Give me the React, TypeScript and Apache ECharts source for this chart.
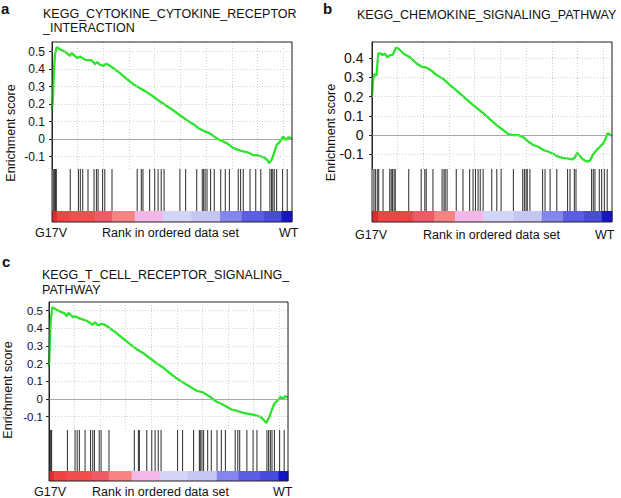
import React, { useEffect, useRef } from 'react';
import * as echarts from 'echarts';

// x positions are ranks in the ordered gene list, expressed per mille (0..1000)
const gridStep = 107; // ~2000 genes of ~18700

const esTicksA = [-0.1, 0, 0.1, 0.2, 0.3, 0.4, 0.5];
const esTicksB = [-0.1, 0, 0.1, 0.2, 0.3, 0.4];
const esTicksC = [-0.1, 0, 0.1, 0.2, 0.3, 0.4, 0.5];

const titleA = ['KEGG_CYTOKINE_CYTOKINE_RECEPTOR', '_INTERACTION'];
const titleB = ['KEGG_CHEMOKINE_SIGNALING_PATHWAY'];
const titleC = ['KEGG_T_CELL_RECEPTOR_SIGNALING_', 'PATHWAY'];
const panelLetters = ['a', 'b', 'c'];
const yName = 'Enrichment score';
const xName = 'Rank in ordered data set';
const leftClass = 'G17V';
const rightClass = 'WT';

const esRankA = [0, 3, 9, 13, 20, 33, 54, 75, 82, 106, 117, 138, 166, 179, 189, 200, 214, 225, 235, 256, 283, 311, 339, 367, 394, 422, 450, 478, 506, 533, 561, 589, 610, 631, 651, 672, 693, 714, 735, 756, 776, 797, 818, 839, 860, 881, 894, 905, 915, 925, 936, 947, 956, 963, 975, 985, 999];
const esScoreA = [0.17, 0.21, 0.415, 0.49, 0.526, 0.514, 0.5, 0.476, 0.491, 0.463, 0.472, 0.453, 0.45, 0.429, 0.44, 0.425, 0.419, 0.43, 0.425, 0.406, 0.377, 0.345, 0.314, 0.291, 0.269, 0.244, 0.215, 0.19, 0.164, 0.137, 0.11, 0.086, 0.063, 0.048, 0.038, 0.019, 0, -0.013, -0.029, -0.051, -0.061, -0.07, -0.076, -0.091, -0.093, -0.103, -0.114, -0.136, -0.118, -0.08, -0.032, -0.019, 0, 0.015, -0.004, 0.011, 0.006];

const esRankB = [0, 5, 12, 19, 26, 36, 44, 54, 64, 75, 86, 100, 110, 131, 158, 186, 207, 228, 249, 269, 297, 325, 353, 381, 408, 436, 464, 492, 519, 547, 568, 589, 610, 631, 652, 672, 693, 714, 735, 756, 776, 797, 814, 832, 845, 855, 864, 877, 890, 901, 910, 920, 930, 940, 950, 961, 971, 981, 989, 999];
const esScoreB = [0.2, 0.295, 0.32, 0.31, 0.425, 0.425, 0.417, 0.425, 0.405, 0.417, 0.417, 0.455, 0.451, 0.425, 0.405, 0.373, 0.356, 0.351, 0.335, 0.3125, 0.292, 0.26, 0.231, 0.2, 0.17, 0.142, 0.113, 0.082, 0.052, 0.026, 0.005, 0, 0, -0.012, -0.035, -0.052, -0.061, -0.078, -0.087, -0.099, -0.113, -0.12, -0.122, -0.127, -0.118, -0.092, -0.105, -0.125, -0.135, -0.139, -0.13, -0.104, -0.087, -0.073, -0.061, -0.047, -0.026, 0.009, 0.005, -0.005];

const esRankC = [0, 4, 7, 14, 25, 46, 67, 74, 81, 102, 109, 130, 158, 172, 183, 192, 206, 220, 234, 255, 283, 311, 339, 367, 395, 422, 450, 478, 506, 534, 562, 590, 618, 645, 673, 701, 722, 744, 764, 785, 813, 841, 862, 883, 897, 909, 922, 932, 942, 951, 960, 970, 979, 988, 1000];
const esScoreC = [0.184, 0.335, 0.44, 0.52, 0.51, 0.496, 0.483, 0.468, 0.487, 0.462, 0.468, 0.455, 0.443, 0.43, 0.42, 0.434, 0.417, 0.426, 0.42, 0.4, 0.373, 0.341, 0.311, 0.282, 0.259, 0.231, 0.203, 0.178, 0.146, 0.117, 0.093, 0.07, 0.047, 0.038, 0.013, -0.015, -0.028, -0.044, -0.059, -0.066, -0.078, -0.085, -0.091, -0.1, -0.116, -0.135, -0.1, -0.062, -0.028, -0.015, -0.002, 0.013, -0.002, 0.017, 0.008];

const hitsA = [5, 9, 12, 15, 18, 76, 110, 118, 128, 150, 175, 185, 192, 211, 220, 250, 355, 372, 379, 407, 428, 442, 455, 467, 533, 557, 603, 626, 632, 638, 646, 661, 676, 703, 722, 739, 776, 786, 797, 825, 849, 870, 908, 915, 920, 926, 936, 961, 980];
const hitsB = [8, 14, 22, 28, 46, 74, 80, 85, 92, 97, 153, 205, 220, 226, 254, 292, 300, 305, 313, 351, 379, 407, 421, 431, 442, 451, 463, 499, 520, 538, 589, 628, 635, 642, 647, 658, 711, 721, 742, 770, 815, 825, 843, 850, 915, 922, 929, 947, 957, 968, 980];
const hitsC = [2, 5, 8, 11, 77, 109, 118, 127, 151, 174, 183, 190, 210, 218, 251, 357, 374, 378, 409, 430, 444, 457, 469, 538, 559, 605, 629, 633, 640, 647, 664, 679, 703, 721, 738, 779, 790, 798, 828, 854, 870, 912, 919, 926, 933, 943, 965, 984];

// ranked-list metric bands: [start, end, level]
const bandsA = [[0, 20, 0], [20, 75, 1], [75, 180, 2], [180, 250, 3], [250, 345, 4], [345, 462, 5], [462, 580, 6], [580, 700, 7], [700, 790, 8], [790, 880, 9], [880, 955, 10], [955, 1000, 11]];
const bandsB = [[0, 25, 0], [25, 170, 1], [170, 260, 3], [260, 346, 4], [346, 463, 5], [463, 590, 6], [590, 707, 7], [707, 796, 8], [796, 880, 9], [880, 957, 10], [957, 1000, 11]];
const bandsC = [[0, 20, 0], [20, 75, 1], [75, 180, 2], [180, 250, 3], [250, 346, 4], [346, 464, 5], [464, 580, 6], [580, 702, 7], [702, 792, 8], [792, 880, 9], [880, 960, 10], [960, 1000, 11]];

const palette = ['#df2b2b', '#f04444', '#f44d4d', '#f05a66', '#f98383', '#f4b8e8', '#d4d4f8', '#c6c6f5', '#8585f0', '#5c5ce6', '#4a4ae0', '#1414c8'];

const FONT = '"Liberation Sans", Arial, Helvetica, sans-serif';

const layouts = [
  { left: 52, width: 240, top: 42, esH: 127, hitsH: 42, barH: 11, yMin: -0.17, yMax: 0.555, tickFont: 12, margin: 7,
    letter: [1, 8], titleX: 43, titleY: [14.3, 28.3], yNameX: 10.5, yNameY: 133, bottomY: 233.3, g17vX: 35, rankX: 102, wtX: 279 },
  { left: 372, width: 240, top: 42, esH: 127, hitsH: 42, barH: 11, yMin: -0.177, yMax: 0.485, tickFont: 14, margin: 8.5,
    letter: [323, 8], titleX: 357, titleY: [14.7], yNameX: 330.5, yNameY: 132.5, bottomY: 234.7, g17vX: 355, rankX: 423, wtX: 595 },
  { left: 49, width: 239, top: 302, esH: 128, hitsH: 41, barH: 10, yMin: -0.175, yMax: 0.549, tickFont: 11.5, margin: 6,
    letter: [2, 261], titleX: 42, titleY: [275.3, 289.5], yNameX: 7.5, yNameY: 390, bottomY: 491.7, g17vX: 34, rankX: 92, wtX: 273 },
];

const panels = [
  { ranks: esRankA, scores: esScoreA, hits: hitsA, bands: bandsA, ticks: esTicksA, title: titleA },
  { ranks: esRankB, scores: esScoreB, hits: hitsB, bands: bandsB, ticks: esTicksB, title: titleB },
  { ranks: esRankC, scores: esScoreC, hits: hitsC, bands: bandsC, ticks: esTicksC, title: titleC },
];

function buildOption() {
  const grid: any[] = [];
  const xAxis: any[] = [];
  const yAxis: any[] = [];
  const series: any[] = [];
  const graphic: any[] = [];

  panels.forEach((p, i) => {
    const L = layouts[i];
    const gEs = grid.length;
    grid.push({ left: L.left, top: L.top, width: L.width, height: L.esH });
    grid.push({ left: L.left, top: L.top + L.esH, width: L.width, height: L.hitsH });
    grid.push({ left: L.left, top: L.top + L.esH + L.hitsH, width: L.width, height: L.barH });

    xAxis.push({
      type: 'value', gridIndex: gEs, min: 0, max: 1000, interval: gridStep,
      axisLabel: { show: false }, axisTick: { show: false },
      axisLine: { show: true, lineStyle: { color: '#8a8a8a', width: 1 } },
      splitLine: { show: true, lineStyle: { color: '#cfcfcf', type: [1, 2], width: 1 } },
    });
    xAxis.push({ type: 'value', gridIndex: gEs + 1, min: 0, max: 1000, show: false });
    xAxis.push({ type: 'value', gridIndex: gEs + 2, min: 0, max: 1000, show: false });

    yAxis.push({
      type: 'value', gridIndex: gEs, min: L.yMin, max: L.yMax,
      axisLine: { show: true, lineStyle: { color: '#222', width: 1 } },
      axisTick: { show: true, length: 3, customValues: p.ticks, lineStyle: { color: '#222' } },
      axisLabel: {
        customValues: p.ticks, margin: L.margin, fontSize: L.tickFont, fontFamily: FONT, color: '#111',
        formatter: (v: number) => String(Math.round(v * 10) / 10),
      },
      splitLine: { show: false },
    });
    yAxis.push({ type: 'value', gridIndex: gEs + 1, min: 0, max: 1, show: false });
    yAxis.push({ type: 'value', gridIndex: gEs + 2, min: 0, max: 1, show: false });

    // horizontal grid lines
    series.push({
      type: 'line', xAxisIndex: gEs, yAxisIndex: gEs, data: [], z: 1, silent: true,
      markLine: {
        silent: true, symbol: ['none', 'none'], label: { show: false }, animation: false,
        data: p.ticks.map((v) => ({
          yAxis: v,
          lineStyle: v === 0
            ? { color: '#a8a8a8', type: 'solid', width: 1 }
            : { color: '#cfcfcf', type: [1, 2], width: 1 },
        })),
      },
    });

    series.push({
      type: 'line', xAxisIndex: gEs, yAxisIndex: gEs, z: 3,
      data: p.ranks.map((r, k) => [r, p.scores[k]]),
      showSymbol: false, symbol: 'none',
      lineStyle: { color: '#2be42b', width: 2.3 },
    });

    series.push({
      type: 'custom', xAxisIndex: gEs + 1, yAxisIndex: gEs + 1,
      data: p.hits.map((h) => [h, 0]),
      encode: { x: 0, y: 1 },
      renderItem: (params: any, api: any) => {
        const x = api.coord([api.value(0), 0])[0];
        const cs = params.coordSys;
        return { type: 'line', shape: { x1: x, y1: cs.y, x2: x, y2: cs.y + cs.height }, style: { stroke: '#2a2a2a', lineWidth: 1 } };
      },
    });

    series.push({
      type: 'custom', xAxisIndex: gEs + 2, yAxisIndex: gEs + 2,
      data: p.bands.map((b) => [b[0], b[1], b[2]]),
      encode: { x: [0, 1], y: 2 },
      renderItem: (params: any, api: any) => {
        const x0 = api.coord([api.value(0), 0])[0];
        const x1 = api.coord([api.value(1), 0])[0];
        const cs = params.coordSys;
        return { type: 'rect', shape: { x: x0, y: cs.y, width: x1 - x0 + 0.5, height: cs.height }, style: { fill: palette[api.value(2)] } };
      },
    });

    const totalH = L.esH + L.hitsH + L.barH;
    graphic.push({
      type: 'rect', z: 100, silent: true,
      shape: { x: L.left, y: L.top, width: L.width, height: totalH },
      style: { fill: 'none', stroke: '#222', lineWidth: 1 },
    });
    graphic.push({
      type: 'text', x: L.letter[0], y: L.letter[1],
      style: { text: panelLetters[i], fontSize: 15, fontWeight: 'bold', fontFamily: FONT, fill: '#111', verticalAlign: 'middle', align: 'left' },
    });
    p.title.forEach((t, k) => {
      graphic.push({
        type: 'text', x: L.titleX, y: L.titleY[k],
        style: { text: t, fontSize: 12.5, fontFamily: FONT, fill: '#111', verticalAlign: 'middle', align: 'left' },
      });
    });
    graphic.push({
      type: 'text', x: L.yNameX, y: L.yNameY, rotation: Math.PI / 2,
      style: { text: yName, fontSize: 12.5, fontFamily: FONT, fill: '#111', verticalAlign: 'middle', align: 'center' },
    });
    [[leftClass, L.g17vX], [xName, L.rankX], [rightClass, L.wtX]].forEach(([t, x]) => {
      graphic.push({
        type: 'text', x: x as number, y: L.bottomY,
        style: { text: t as string, fontSize: 12.5, fontFamily: FONT, fill: '#111', verticalAlign: 'middle', align: 'left' },
      });
    });
  });

  return { animation: false, backgroundColor: '#fff', grid, xAxis, yAxis, series, graphic };
}

export default function App() {
  const ref = useRef<HTMLDivElement>(null);
  useEffect(() => {
    if (!ref.current) return;
    const chart = echarts.init(ref.current, undefined, { renderer: 'svg' });
    chart.setOption(buildOption() as any);
    return () => chart.dispose();
  }, []);
  return <div ref={ref} style={{ position: 'absolute', left: 0, top: 0, width: 621, height: 498, background: '#fff' }} />;
}
